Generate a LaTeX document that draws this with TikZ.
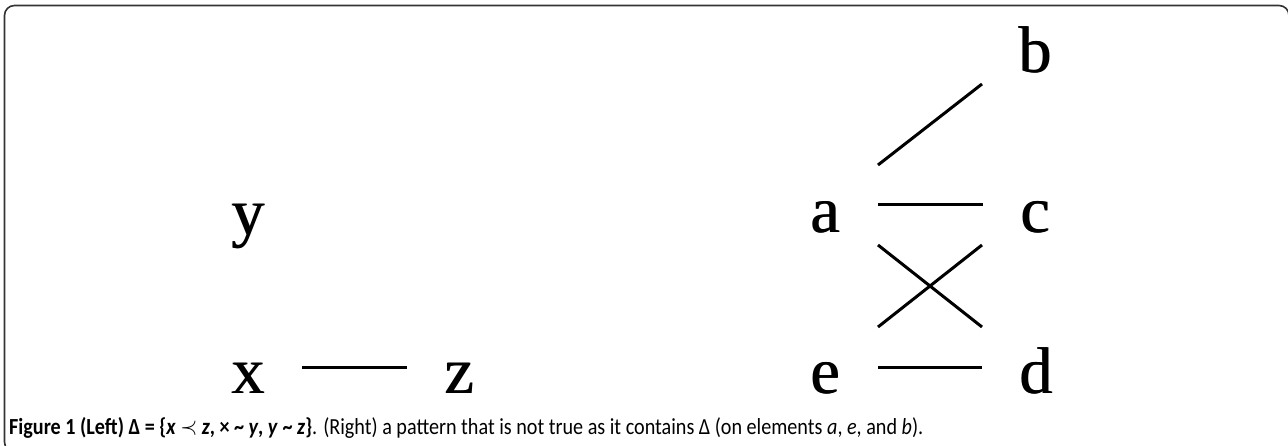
\documentclass[tikz,border=0pt]{standalone}
\usepackage{fontspec}
\usepackage{graphicx}
\setmainfont{Liberation Serif}
\newfontfamily\capfont{Carlito}
\newcommand\heavyglyph[1]{\rlap{\kern1pt#1}#1}
\usetikzlibrary{calc}
\tikzset{
  lbl/.style={anchor=base, inner sep=0pt, font=\fontsize{66}{80}\selectfont},
  edge/.style={line width=3pt, black},
  frame/.style={line width=1.6pt, draw=black!80, rounded corners=10pt}
}
\begin{document}
\begin{tikzpicture}[x=1pt,y=-1pt]
\useasboundingbox (0,0) rectangle (1288,446);
\draw[frame] (20,452) -- (4.5,452) -- (4.5,5.5) -- (1289,5.5) -- (1289,40);
% left pattern
\node[lbl] (y) at (248,235) {\heavyglyph{y}};
\node[lbl] (x) at (248,393) {\heavyglyph{x}};
\node[lbl] (z) at (459,393) {\heavyglyph{z}};
\draw[edge] ($(x.base)+(54,-26)$) -- ($(z.base)+(-52,-26)$);
% right pattern
\node[lbl] (b) at (1035,73) {\heavyglyph{b}};
\node[lbl] (a) at (825,233) {\heavyglyph{a}};
\node[lbl] (c) at (1035,233) {\heavyglyph{c}};
\node[lbl] (e) at (825,393) {\heavyglyph{e}};
\node[lbl] (d) at (1036,393) {\heavyglyph{d}};
\draw[edge] ($(a.base)+(53,-68)$) -- ($(b.base)+(-53,11)$);
\draw[edge] ($(a.base)+(53,-28)$) -- ($(c.base)+(-52,-28)$);
\draw[edge] ($(a.base)+(53,12)$) -- ($(d.base)+(-54,-66)$);
\draw[edge] ($(e.base)+(53,-66)$) -- ($(c.base)+(-53,12)$);
\draw[edge] ($(e.base)+(53,-26)$) -- ($(d.base)+(-54,-26)$);
% caption
\node[anchor=base west, inner sep=0pt] (cap) at (9,434) {\resizebox{914pt}{\height}{\capfont\fontsize{23}{27}\selectfont
\textbf{Figure 1 (Left) Δ = \{\textit{x} \(\prec\) \textit{z}, × \textasciitilde{} \textit{y}, \textit{y} \textasciitilde{} \textit{z}\}}. (Right) a pattern that is not true as it contains Δ (on elements \textit{a}, \textit{e}, and \textit{b}).}};
\end{tikzpicture}
\end{document}
